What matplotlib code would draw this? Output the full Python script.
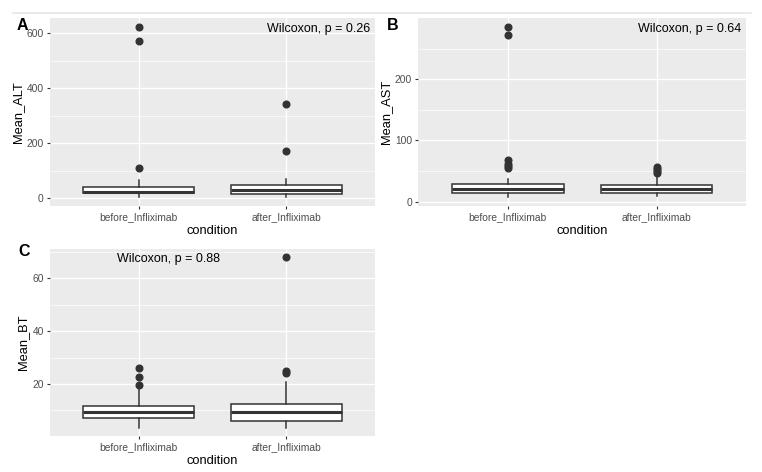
import matplotlib
matplotlib.use("Agg")
import matplotlib.pyplot as plt
from matplotlib.lines import Line2D

plt.rcParams['font.family'] = ['Liberation Sans', 'DejaVu Sans']

conditions = ["before_Infliximab", "after_Infliximab"]

# Panel A: Mean_ALT  (q1, median, q3, whisker low, whisker high, outliers)
alt_q1 = [17, 15]
alt_med = [23, 29]
alt_q3 = [39, 46]
alt_wlo = [2, 2]
alt_whi = [65, 68]
alt_out = [[110, 573, 622], [170, 342]]

# Panel B: Mean_AST
ast_q1 = [14.7, 14.7]
ast_med = [20.3, 20.3]
ast_q3 = [28.4, 27.3]
ast_wlo = [8, 9]
ast_whi = [36.6, 43.6]
ast_out = [[55, 58, 62, 68, 272, 285], [47, 50, 53, 56]]

# Panel C: Mean_BT
bt_q1 = [7.0, 6.1]
bt_med = [9.3, 9.4]
bt_q3 = [11.7, 12.3]
bt_wlo = [3.5, 3.5]
bt_whi = [18.1, 20.9]
bt_out = [[19.5, 22.5, 26], [24, 25, 68]]

panels = [
    dict(label="A", ylabel="Mean_ALT", q1=alt_q1, med=alt_med, q3=alt_q3, wlo=alt_wlo, whi=alt_whi,
         out=alt_out, ylim=(-29, 656), major=[0, 200, 400, 600], minor=[100, 300, 500],
         ptext="Wilcoxon, p = 0.26", rect=[0.0656, 0.5636, 0.4265, 0.3984], tpos=(0.985, 0.975), ha="right",
         lpos=(0.022, 0.962)),
    dict(label="B", ylabel="Mean_AST", q1=ast_q1, med=ast_med, q3=ast_q3, wlo=ast_wlo, whi=ast_whi,
         out=ast_out, ylim=(-7, 300), major=[0, 100, 200], minor=[50, 150, 250],
         ptext="Wilcoxon, p = 0.64", rect=[0.549, 0.5636, 0.430, 0.3984], tpos=(0.985, 0.975), ha="right",
         lpos=(0.508, 0.962)),
    dict(label="C", ylabel="Mean_BT", q1=bt_q1, med=bt_med, q3=bt_q3, wlo=bt_wlo, whi=bt_whi,
         out=bt_out, ylim=(0.3, 71.1), major=[20, 40, 60], minor=[10, 30, 50, 70],
         ptext="Wilcoxon, p = 0.88", rect=[0.0656, 0.0763, 0.4265, 0.3962], tpos=(0.205, 0.98), ha="left",
         lpos=(0.024, 0.483)),
]

fig = plt.figure(figsize=(7.62, 4.72), dpi=100)
fig.add_artist(Line2D([0.017, 0.985], [0.972, 0.972], color="#e6e6e6", lw=1.2, transform=fig.transFigure))

for p in panels:
    ax = fig.add_axes(p["rect"])
    ax.set_facecolor("#EBEBEB")
    for s in ax.spines.values():
        s.set_visible(False)
    stats = []
    for i in range(2):
        stats.append(dict(q1=p["q1"][i], med=p["med"][i], q3=p["q3"][i], whislo=p["wlo"][i],
                          whishi=p["whi"][i], fliers=p["out"][i], label=conditions[i]))
    ax.bxp(stats, positions=[1, 2], widths=0.75, patch_artist=True, showfliers=True, manage_ticks=False,
           boxprops=dict(facecolor="white", edgecolor="#333333", lw=1.1),
           medianprops=dict(color="#333333", lw=2.2),
           whiskerprops=dict(color="#333333", lw=1.1),
           capprops=dict(lw=0),
           flierprops=dict(marker="o", markerfacecolor="#333333", markeredgecolor="#333333", markersize=4.8))
    ax.set_yticks(p["major"])
    ax.set_yticks(p["minor"], minor=True)
    ax.set_xticks([1, 2])
    ax.set_xticklabels(conditions)
    ax.grid(True, which="major", color="white", lw=1.0)
    ax.grid(True, which="minor", axis="y", color="white", lw=0.5)
    ax.set_axisbelow(True)
    ax.set_xlim(0.4, 2.6)
    ax.set_ylim(*p["ylim"])
    ax.tick_params(axis="both", which="major", length=2.5, width=0.8, color="#333333",
                   labelcolor="#4D4D4D", labelsize=7.4, pad=2)
    ax.tick_params(axis="both", which="minor", length=0)
    ax.set_ylabel(p["ylabel"], fontsize=9.3, color="black", labelpad=2)
    ax.set_xlabel("condition", fontsize=9.3, color="black", labelpad=2)
    ax.text(p["tpos"][0], p["tpos"][1], p["ptext"], transform=ax.transAxes, ha=p["ha"], va="top",
            fontsize=9, color="black")
    fig.text(p["lpos"][0], p["lpos"][1], p["label"], fontsize=11.5, fontweight="bold", ha="left", va="top")

fig.savefig("out.png", dpi=100)
